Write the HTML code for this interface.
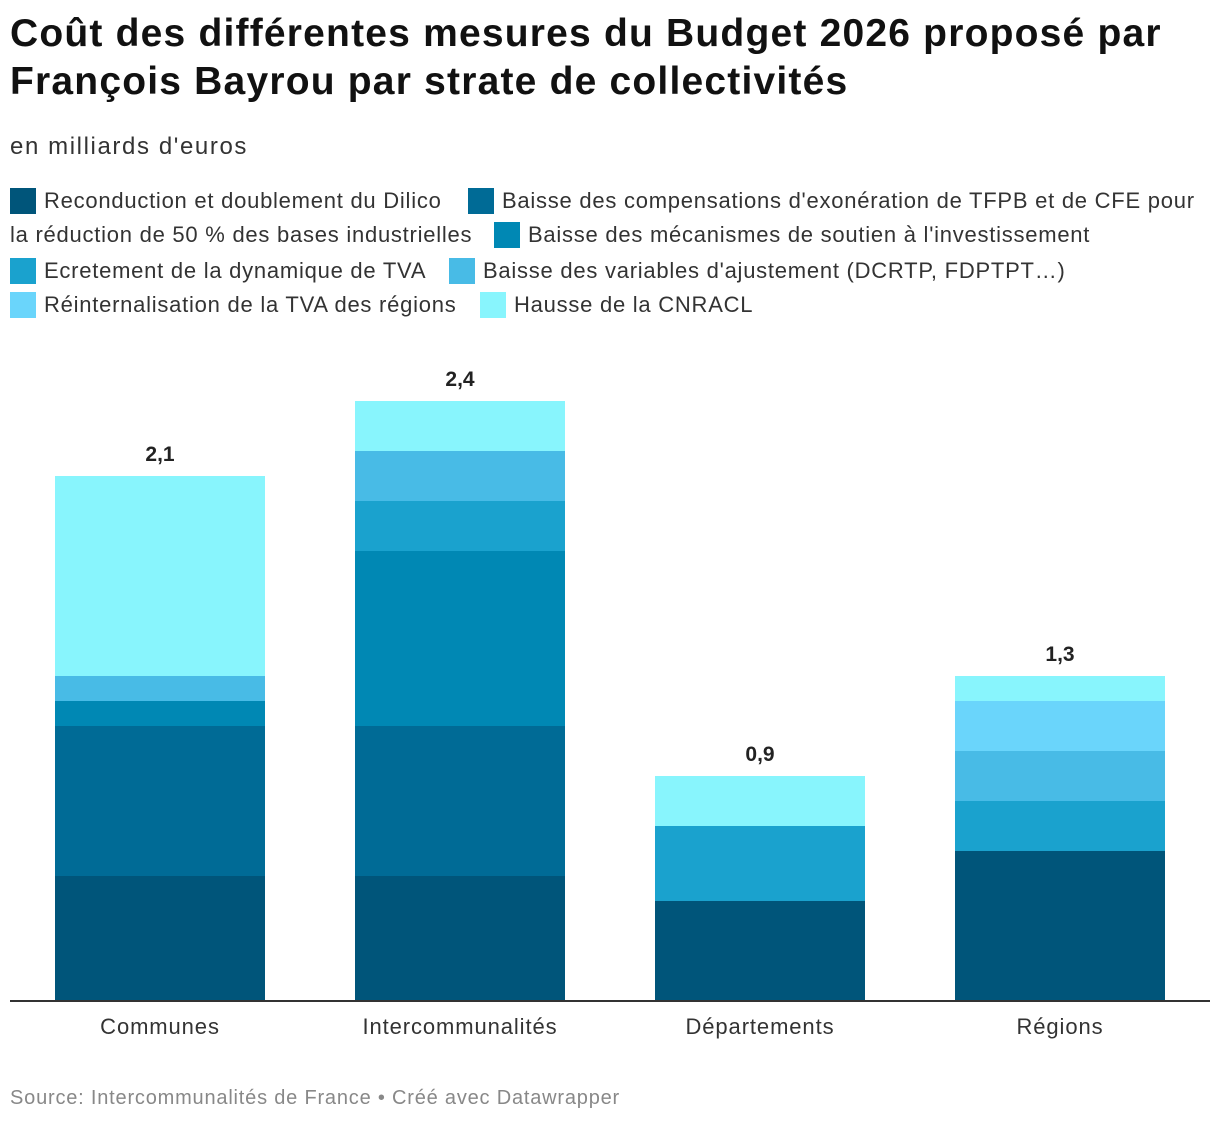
<!DOCTYPE html>
<html><head><meta charset="utf-8"><style>
body{margin:0;background:#fff;font-family:"Liberation Sans",sans-serif;color:#333;}
#wrap{position:relative;width:1220px;height:1124px;overflow:hidden;}
h1{position:absolute;left:10px;top:10px;margin:0;font-size:39px;line-height:48px;font-weight:bold;color:#111;letter-spacing:1.2px;white-space:nowrap;}
.sub{position:absolute;left:10px;top:133px;font-size:24px;color:#333;letter-spacing:1.6px;}
.lg{position:absolute;font-size:22px;color:#333;white-space:nowrap;display:flex;align-items:center;letter-spacing:0.75px;}
.sw{display:inline-block;width:26px;height:26px;margin-right:8px;}
.src{position:absolute;left:10px;top:1087px;font-size:20px;color:#888;letter-spacing:0.8px;}
</style></head><body><div id="wrap">
<h1>Coût des différentes mesures du Budget 2026 proposé par<br>François Bayrou par strate de collectivités</h1>
<div class="sub">en milliards d'euros</div>
<div id="legend">
<div class="lg" style="left:10px;top:188px"><span class="sw" style="background:#00557a"></span>Reconduction et doublement du Dilico</div>
<div class="lg" style="left:468px;top:188px"><span class="sw" style="background:#006b96"></span>Baisse des compensations d'exonération de TFPB et de CFE pour</div>
<div class="lg" style="left:10px;top:222px">la réduction de 50 % des bases industrielles</div>
<div class="lg" style="left:494px;top:222px"><span class="sw" style="background:#0088b4"></span>Baisse des mécanismes de soutien à l'investissement</div>
<div class="lg" style="left:10px;top:258px"><span class="sw" style="background:#1aa2ce"></span>Ecretement de la dynamique de TVA</div>
<div class="lg" style="left:449px;top:258px"><span class="sw" style="background:#48bbe6"></span>Baisse des variables d'ajustement (DCRTP, FDPTPT…)</div>
<div class="lg" style="left:10px;top:292px"><span class="sw" style="background:#6ad5fb"></span>Réinternalisation de la TVA des régions</div>
<div class="lg" style="left:480px;top:292px"><span class="sw" style="background:#88f5fd"></span>Hausse de la CNRACL</div>
</div>
<svg id="plot" width="1220" height="1124" style="position:absolute;left:0;top:0"></svg>
<div class="src">Source: Intercommunalités de France • Créé avec Datawrapper</div>
</div>
<script>
const categories=["Communes","Intercommunalités","Départements","Régions"];
const dilico=[0.5,0.5,0.4,0.6];
const compensations=[0.6,0.6,0,0];
const investissement=[0.1,0.7,0,0];
const tva=[0,0.2,0.3,0.2];
const variables=[0.1,0.2,0,0.2];
const reinternalisation=[0,0,0,0.2];
const cnracl=[0.8,0.2,0.2,0.1];
const totals=["2,1","2,4","0,9","1,3"];
const series=[dilico,compensations,investissement,tva,variables,reinternalisation,cnracl];
const seriesNames=["dilico","compensations","investissement","tva","variables","reinternalisation","cnracl"];
const colors=["#00557a","#006b96","#0088b4","#1aa2ce","#48bbe6","#6ad5fb","#88f5fd"];
const svg=document.getElementById('plot');const NS="http://www.w3.org/2000/svg";
const base=1001,perUnit=250;
function y(v){return base-v*perUnit;}
function x(i){return 55+i*300;}
const bw=210;
categories.forEach((c,i)=>{
 let acc=0;
 series.forEach((s,k)=>{
  const v=s[i];if(v<=0)return;
  const r=document.createElementNS(NS,'rect');
  r.setAttribute('x',x(i));r.setAttribute('width',bw);
  r.setAttribute('y',y(acc+v));r.setAttribute('height',y(acc)-y(acc+v));
  r.setAttribute('fill',colors[k]);
  
  
  svg.appendChild(r);acc+=v;
 });
 const t=document.createElementNS(NS,'text');
 t.setAttribute('x',x(i)+bw/2);t.setAttribute('y',y(acc)-15);
 t.setAttribute('text-anchor','middle');t.setAttribute('font-size','21');t.setAttribute('font-weight','bold');
 t.setAttribute('fill','#222');t.setAttribute('font-family','Liberation Sans, sans-serif');
 t.textContent=totals[i];
 
 
 svg.appendChild(t);
 const l=document.createElementNS(NS,'text');
 l.setAttribute('x',x(i)+bw/2);l.setAttribute('y',1034);
 l.setAttribute('text-anchor','middle');l.setAttribute('font-size','22');
 l.setAttribute('letter-spacing','0.9');
 l.setAttribute('fill','#333');l.setAttribute('font-family','Liberation Sans, sans-serif');
 l.textContent=c;
 
 
 svg.appendChild(l);
});
const ax=document.createElementNS(NS,'line');
ax.setAttribute('x1',10);ax.setAttribute('x2',1210);ax.setAttribute('y1',base);ax.setAttribute('y2',base);
ax.setAttribute('stroke','#333');ax.setAttribute('stroke-width','2');


svg.appendChild(ax);
</script></body></html>
